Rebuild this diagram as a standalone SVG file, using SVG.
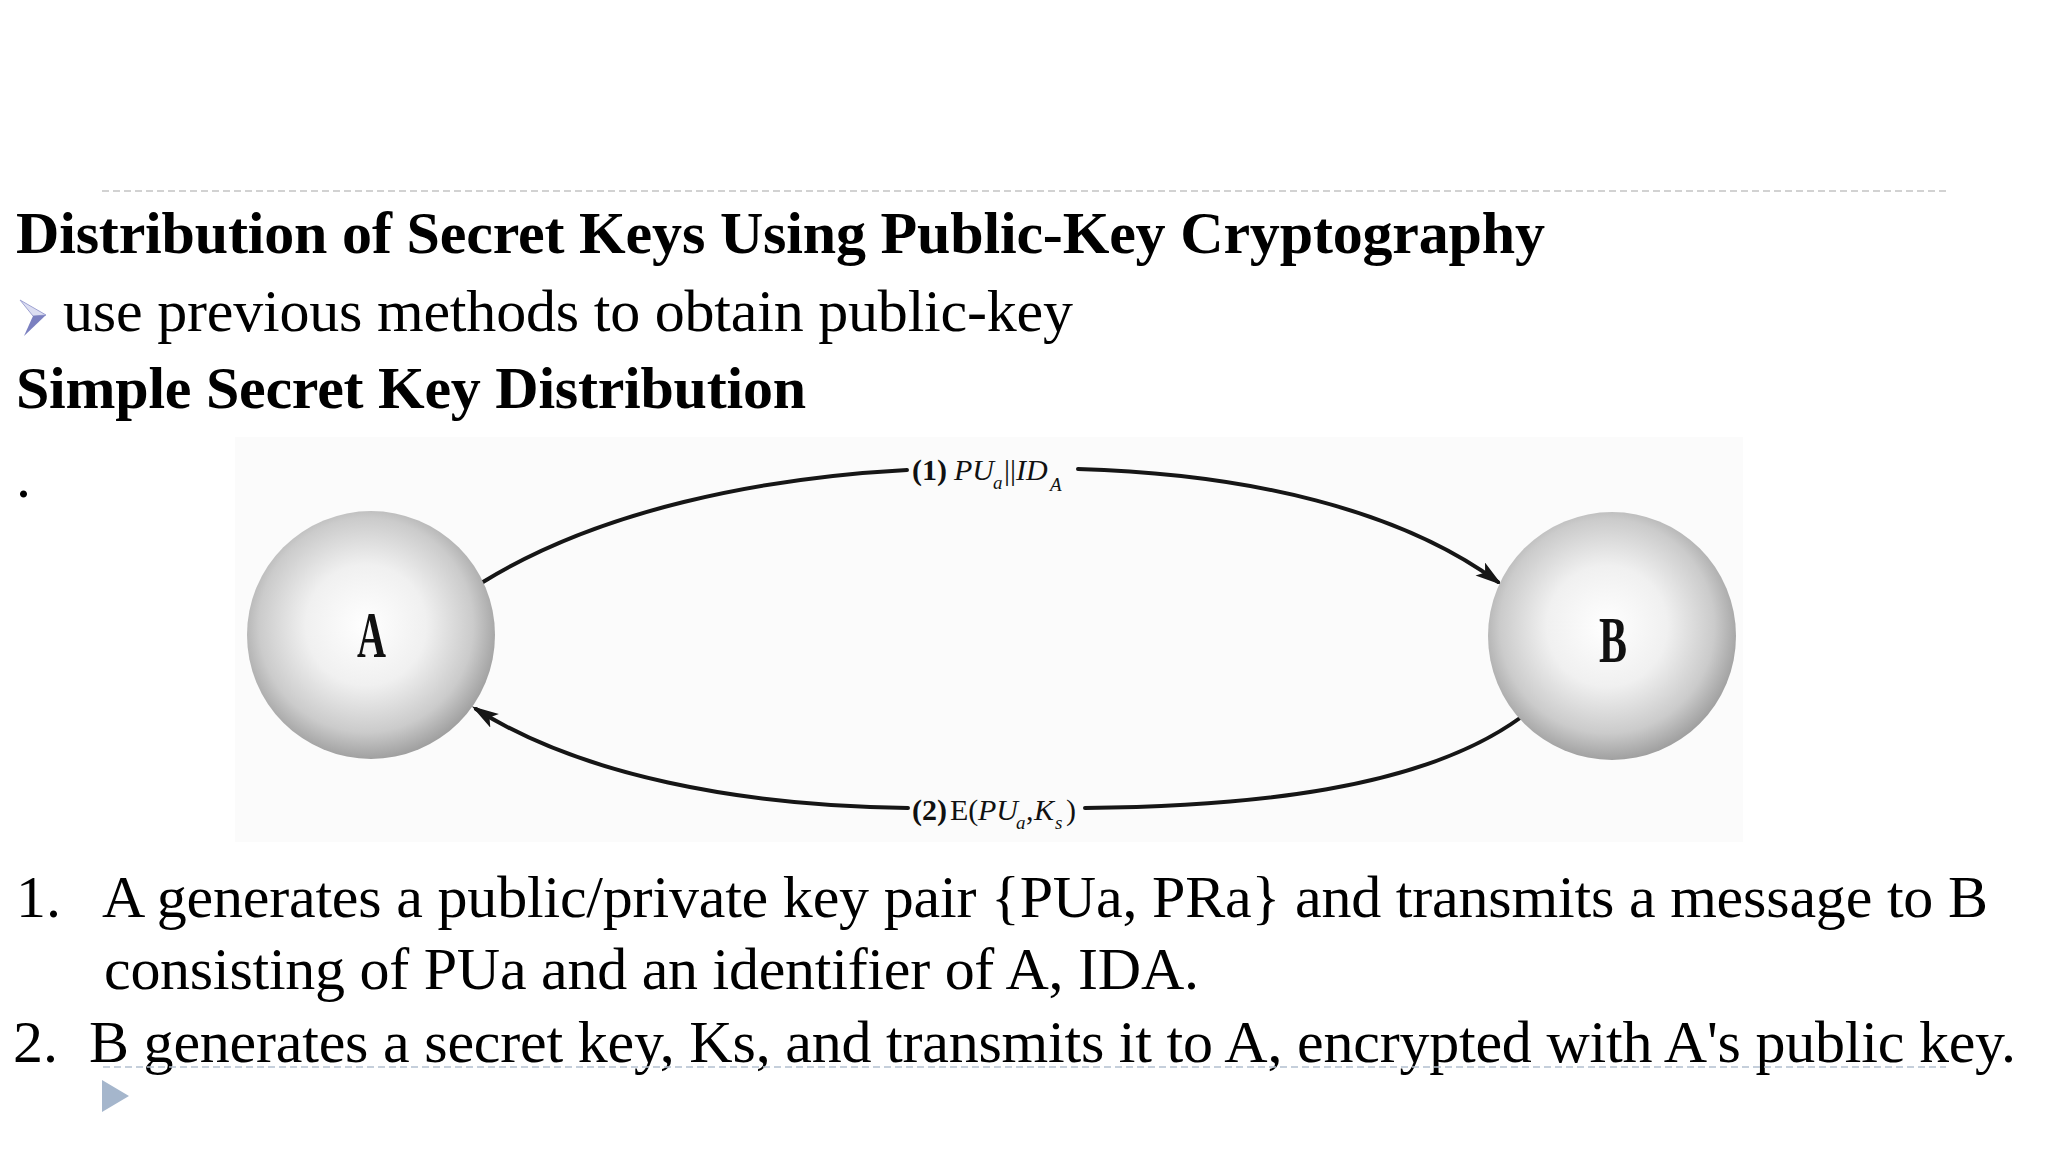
<svg xmlns="http://www.w3.org/2000/svg" width="2048" height="1152" viewBox="0 0 2048 1152">
<style>
.t{font-family:"Liberation Serif","Times New Roman",serif;fill:#000}
.body{font-size:60px}
.bold{font-size:60px;font-weight:bold}
.lbl{font-family:"Liberation Serif","Times New Roman",serif;font-size:30px;fill:#111}
.it{font-style:italic}
.sub{font-size:19px;font-style:italic}
.node-label{font-family:"Liberation Serif","Times New Roman",serif;font-size:66px;font-weight:bold;fill:#111}
.conn{fill:none;stroke:#161616;stroke-width:4;stroke-linecap:round}
</style>
<defs>
<radialGradient id="sphere" cx="48%" cy="46%" r="54%">
<stop offset="0" stop-color="#ffffff"/>
<stop offset="0.45" stop-color="#f0f0f0"/>
<stop offset="0.8" stop-color="#cbcbcb"/>
<stop offset="1" stop-color="#a0a0a0"/>
</radialGradient>
<marker id="arrow" markerUnits="userSpaceOnUse" markerWidth="30" markerHeight="18" refX="22" refY="8" orient="auto">
<path d="M0,0 L27,8 L0,16 L6,8 z" fill="#161616"/>
</marker>
</defs>
<rect width="2048" height="1152" fill="#ffffff"/>
<line x1="102" y1="191" x2="1946" y2="191" stroke="#c4c4c4" stroke-width="1.5" stroke-dasharray="7 4"/>
<text class="t bold" x="16" y="253" textLength="1529">Distribution of Secret Keys Using Public-Key Cryptography</text>
<g id="bullet">
<polygon points="20,300 46,315 33,316" fill="#dcdef2" stroke="#9ea2d2" stroke-width="1"/>
<polygon points="33,316 46,315 24,336" fill="#7b80c0"/>
</g>
<text class="t body" x="63" y="331" textLength="1010">use previous methods to obtain public-key</text>
<text class="t bold" x="16" y="408" textLength="790">Simple Secret Key Distribution</text>
<text class="t body" x="16" y="497">.</text>
<rect x="235" y="437" width="1508" height="405" fill="#fbfbfb"/>
<g id="connectors">
<path class="conn" d="M483,582 C600,510 760,478 907,470"/>
<path class="conn" d="M1078,469 C1250,474 1400,510 1498,582" marker-end="url(#arrow)"/>
<path class="conn" d="M1520,718 C1420,790 1250,806 1085,808"/>
<path class="conn" d="M908,808 C740,806 580,775 476,709" marker-end="url(#arrow)"/>
<text class="lbl"><tspan x="912" y="480" font-weight="bold">(1)</tspan><tspan x="954" y="480" class="it">PU</tspan><tspan x="993" y="489" class="sub">a</tspan><tspan x="1004" y="480">||</tspan><tspan x="1016" y="480" class="it">ID</tspan><tspan x="1050" y="491" class="sub">A</tspan></text>
<text class="lbl"><tspan x="912" y="820" font-weight="bold">(2)</tspan><tspan x="950" y="820">E(</tspan><tspan x="978" y="820" class="it">PU</tspan><tspan x="1016" y="829" class="sub">a</tspan><tspan x="1026" y="820">,</tspan><tspan x="1034" y="820" class="it">K</tspan><tspan x="1055" y="829" class="sub">s</tspan><tspan x="1066" y="820">)</tspan></text>
</g>
<g id="node-A">
<circle cx="371" cy="635" r="124" fill="url(#sphere)"/>
<text class="node-label" x="357" y="657" textLength="29" lengthAdjust="spacingAndGlyphs">A</text>
</g>
<g id="node-B">
<circle cx="1612" cy="636" r="124" fill="url(#sphere)"/>
<text class="node-label" x="1599" y="662" textLength="28" lengthAdjust="spacingAndGlyphs">B</text>
</g>
<text class="t body" x="16" y="917">1.</text>
<text class="t body" x="102" y="917" textLength="1886">A generates a public/private key pair {PUa, PRa} and transmits a message to B</text>
<text class="t body" x="104" y="989" textLength="1095">consisting of PUa and an identifier of A, IDA.</text>
<text class="t body" x="13" y="1062">2.</text>
<text class="t body" x="89" y="1062" textLength="1927">B generates a secret key, Ks, and transmits it to A, encrypted with A's public key.</text>
<line x1="103" y1="1067" x2="1946" y2="1067" stroke="#b3c0cf" stroke-width="1.5" stroke-dasharray="7 4"/>
<polygon points="102,1080 129,1096 102,1112" fill="#a5b6cc"/>
</svg>
